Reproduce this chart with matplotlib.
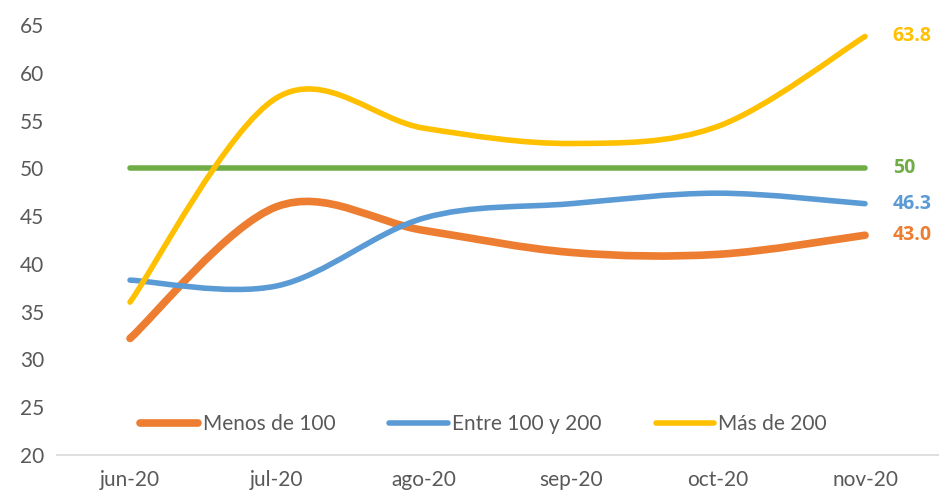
import matplotlib
matplotlib.use("Agg")
import matplotlib.pyplot as plt
from matplotlib.path import Path
from matplotlib.patches import PathPatch
from matplotlib.lines import Line2D
import numpy as np

plt.rcParams['font.family'] = ['Lato', 'DejaVu Sans']

months = ["jun-20", "jul-20", "ago-20", "sep-20", "oct-20", "nov-20"]
menos_100 = [32.2, 46.0, 43.5, 41.2, 41.0, 43.0]
entre_100_200 = [38.3, 37.7, 44.8, 46.3, 47.4, 46.3]
mas_200 = [36.0, 57.4, 54.2, 52.6, 54.4, 63.8]
umbral = [50, 50, 50, 50, 50, 50]

series = [
    ("Menos de 100", menos_100, "#ED7D31", 5.5),
    ("Entre 100 y 200", entre_100_200, "#5B9BD5", 4.0),
    ("Más de 200", mas_200, "#FFC000", 4.0),
]
labels_end = {"Menos de 100": "43.0", "Entre 100 y 200": "46.3", "Más de 200": "63.8"}

fig = plt.figure(figsize=(9.39, 4.95), dpi=100)
ax = fig.add_axes([0.0602, 0.0808, 0.9393, 0.8687])


def smooth_path(xs, ys):
    pts = np.column_stack([xs, ys]).astype(float)
    n = len(pts)
    verts = [pts[0]]
    codes = [Path.MOVETO]
    for i in range(n - 1):
        p0 = pts[i - 1] if i > 0 else pts[i]
        p1 = pts[i]
        p2 = pts[i + 1]
        p3 = pts[i + 2] if i + 2 < n else pts[i + 1]
        c1 = p1 + (p2 - p0) / 6.0
        c2 = p2 - (p3 - p1) / 6.0
        verts += [c1, c2, p2]
        codes += [Path.CURVE4] * 3
    return Path(verts, codes)


x = np.arange(len(months))
lab_font = dict(family=['Open Sans', 'DejaVu Sans'], fontsize=14, fontweight="bold")

# green threshold line
ax.plot(x, umbral, color="#70AD47", lw=4.0, solid_capstyle="round", zorder=2)
ax.annotate("50", (x[-1], umbral[-1]), xytext=(20, 0), textcoords="offset points",
            ha="left", va="center", color="#70AD47", **lab_font)

handles = []
for name, vals, col, lw in series:
    patch = PathPatch(smooth_path(x, vals), facecolor="none", edgecolor=col, lw=lw,
                      capstyle="round", joinstyle="round", zorder=3)
    ax.add_patch(patch)
    ax.annotate(labels_end[name], (x[-1], vals[-1]), xytext=(20, 0), textcoords="offset points",
                ha="left", va="center", color=col, **lab_font)
    handles.append(Line2D([0], [0], color=col, lw=lw, solid_capstyle="round", label=name))

ax.set_xlim(-0.5, len(months) - 0.5)
ax.set_ylim(20, 65)
ax.set_yticks(np.arange(20, 66, 5))
ax.set_xticks(x)
ax.set_xticklabels(months)
ax.tick_params(axis="both", length=0, labelsize=15, labelcolor="#595959")
ax.tick_params(axis="x", pad=11)
ax.tick_params(axis="y", pad=9)
for s in ["top", "right", "left"]:
    ax.spines[s].set_visible(False)
ax.spines["bottom"].set_color("#D9D9D9")
ax.spines["bottom"].set_linewidth(1.2)
ax.patch.set_alpha(0)

leg = ax.legend(handles=handles, loc="center", bbox_to_anchor=(0.484, 0.072), ncol=3,
                frameon=False, handlelength=2.8, handletextpad=0.2,
                columnspacing=2.6, labelcolor="#595959", prop={'size': 15})

fig.savefig("out.png", dpi=100)
